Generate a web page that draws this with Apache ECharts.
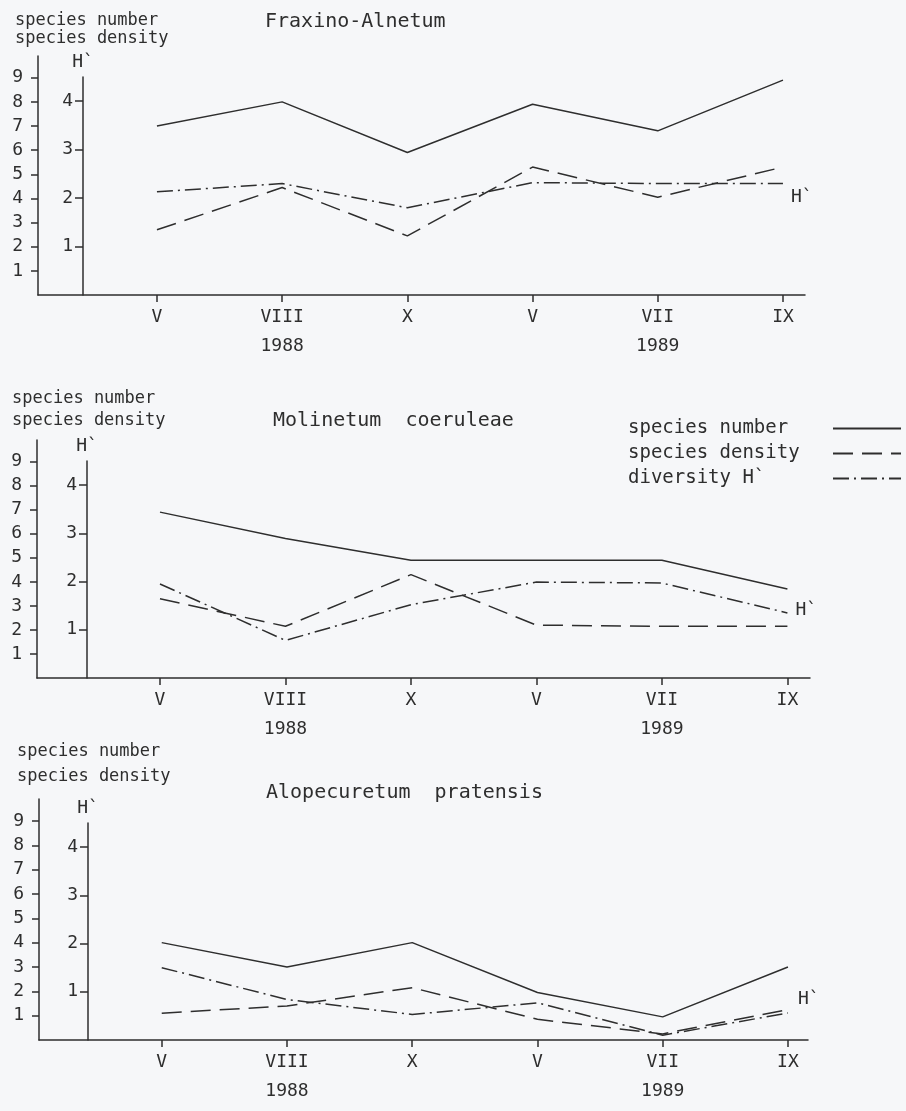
<!DOCTYPE html>
<html>
<head>
<meta charset="utf-8">
<style>
  html, body { margin: 0; padding: 0; background: #f6f7f9; }
  #chart { width: 906px; height: 1111px; }
</style>
<script src="https://cdn.jsdelivr.net/npm/echarts@6/dist/echarts.min.js"></script>
</head>
<body>
<div id="chart"></div>
<script>
// sampling dates, 1988-1989
var months = ['V', 'VIII', 'X', 'V', 'VII', 'IX'];
var years = ['', '1988', '', '', '1989', ''];
var sampleIdx = [0, 1, 2, 3, 4, 5];

var panelTitles = ['Fraxino-Alnetum', 'Molinetum  coeruleae', 'Alopecuretum  pratensis'];
var seriesNames = ['species number', 'species density', 'diversity H`'];

// one row per panel
var speciesNumber = [
  [7, 8, 5.9, 7.9, 6.8, 8.9],
  [6.9, 5.8, 4.9, 4.9, 4.9, 3.7],
  [4, 3, 4, 1.95, 0.95, 3]
];
var speciesDensity = [
  [2.7, 4.45, 2.45, 5.3, 4.05, 5.3],
  [3.3, 2.15, 4.3, 2.2, 2.15, 2.15],
  [1.1, 1.4, 2.15, 0.85, 0.25, 1.25]
];
var diversityH = [
  [2.13, 2.3, 1.8, 2.32, 2.3, 2.3],
  [1.95, 0.78, 1.52, 1.99, 1.97, 1.35],
  [1.5, 0.84, 0.53, 0.77, 0.1, 0.56]
];

var outerTicks = [1, 2, 3, 4, 5, 6, 7, 8, 9];
var innerTicks = [1, 2, 3, 4];

(function () {
  var ink = '#2e2e2e';
  var font = '"DejaVu Sans Mono", monospace';

  // where each panel sits on the page
  var layout = [
    { left: 38, right: 101, topA: 56, topB: 77, bottom: 816, xmin: -0.95, xmax: 5.176, inner: -45,
      title: [265, 12], name: [15, 12, 18], endOff: [0, 14] },
    { left: 37, right: 96, topA: 440, topB: 461, bottom: 433, xmin: -0.98, xmax: 5.18, inner: -50,
      title: [273, 411], name: [12, 388, 22], endOff: [0, -3] },
    { left: 39, right: 98, topA: 799, topB: 823, bottom: 71, xmin: -0.98, xmax: 5.16, inner: -49,
      title: [266, 783], name: [17, 739, 25], endOff: [2, -14] }
  ];

  function pts(row) {
    return row.map(function (v, i) { return [sampleIdx[i], v]; });
  }

  var grid = [], xAxis = [], yAxis = [], series = [], title = [];

  layout.forEach(function (L, p) {
    // grid A: outer scale (species), grid B: inner scale (H`)
    grid.push({ left: L.left, right: L.right, top: L.topA, bottom: L.bottom });
    grid.push({ left: L.left, right: L.right, top: L.topB, bottom: L.bottom });

    xAxis.push({
      type: 'value', gridIndex: 2 * p, min: L.xmin, max: L.xmax,
      axisLine: { show: true, onZero: false, lineStyle: { color: ink, width: 1.5 } },
      axisTick: { show: true, customValues: sampleIdx, length: 7, lineStyle: { color: ink, width: 1.5 } },
      axisLabel: {
        customValues: sampleIdx, color: ink, fontFamily: font, fontSize: 18, lineHeight: 29, margin: 8,
        formatter: function (v) { return months[v] + (years[v] ? '\n' + years[v] : ''); }
      },
      splitLine: { show: false }
    });
    xAxis.push({ type: 'value', gridIndex: 2 * p + 1, min: L.xmin, max: L.xmax, show: false });

    yAxis.push({
      type: 'value', gridIndex: 2 * p, min: 0, max: 9.9, position: 'left',
      axisLine: { show: true, onZero: false, lineStyle: { color: ink, width: 1.5 } },
      axisTick: { show: true, customValues: outerTicks, length: 7, lineStyle: { color: ink, width: 1.5 } },
      axisLabel: { customValues: outerTicks, color: ink, fontFamily: font, fontSize: 18, margin: 15 },
      splitLine: { show: false }
    });
    yAxis.push({
      type: 'value', gridIndex: 2 * p + 1, min: 0, max: 4.5, position: 'left', offset: L.inner,
      name: 'H`', nameLocation: 'end', nameGap: 6,
      nameTextStyle: { color: ink, fontFamily: font, fontSize: 18 },
      axisLine: { show: true, onZero: false, lineStyle: { color: ink, width: 1.5 } },
      axisTick: { show: true, customValues: innerTicks, length: 8, lineStyle: { color: ink, width: 1.5 } },
      axisLabel: { customValues: innerTicks, color: ink, fontFamily: font, fontSize: 18, margin: 10 },
      splitLine: { show: false }
    });

    series.push({
      name: seriesNames[0], type: 'line', xAxisIndex: 2 * p, yAxisIndex: 2 * p,
      data: pts(speciesNumber[p]), symbol: 'none',
      lineStyle: { color: ink, width: 1.5 }
    });
    series.push({
      name: seriesNames[1], type: 'line', xAxisIndex: 2 * p, yAxisIndex: 2 * p,
      data: pts(speciesDensity[p]), symbol: 'none',
      lineStyle: { color: ink, width: 1.5, type: [20, 9] }
    });
    series.push({
      name: seriesNames[2], type: 'line', xAxisIndex: 2 * p + 1, yAxisIndex: 2 * p + 1,
      data: pts(diversityH[p]), symbol: 'none',
      lineStyle: { color: ink, width: 1.5, type: [16, 5, 2, 5] },
      endLabel: { show: true, formatter: 'H`', offset: L.endOff, color: ink, fontFamily: font, fontSize: 18 }
    });

    title.push({
      text: panelTitles[p], left: L.title[0], top: L.title[1], padding: 0,
      textStyle: { color: ink, fontFamily: font, fontSize: 20, fontWeight: 'normal' }
    });
    title.push({
      text: 'species number\nspecies density', left: L.name[0], top: L.name[1], padding: 0,
      textStyle: { color: ink, fontFamily: font, fontSize: 17, fontWeight: 'normal', lineHeight: L.name[2] }
    });
  });

  var chart = echarts.init(document.getElementById('chart'), null, { renderer: 'canvas' });
  chart.setOption({
    animation: false,
    backgroundColor: '#f6f7f9',
    color: [ink, ink, ink],
    title: title,
    grid: grid,
    xAxis: xAxis,
    yAxis: yAxis,
    legend: {
      data: seriesNames, orient: 'vertical', left: 628, top: 419, align: 'right',
      selectedMode: false, itemWidth: 68, itemHeight: 14, itemGap: 6, padding: 0,
      itemStyle: { opacity: 0 },
      formatter: '{t|{name}}',
      textStyle: {
        color: ink, fontFamily: font, fontSize: 19, lineHeight: 19,
        rich: { t: { width: 200, align: 'left', color: ink, fontFamily: font, fontSize: 19 } }
      }
    },
    series: series
  });
})();
</script>
</body>
</html>
